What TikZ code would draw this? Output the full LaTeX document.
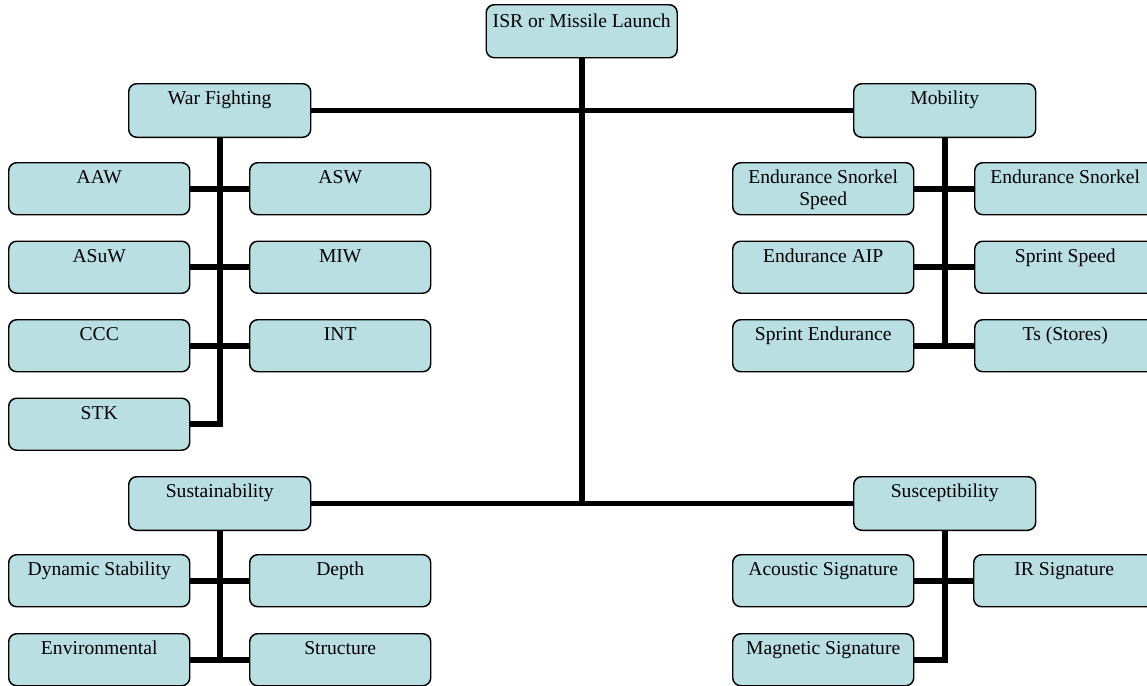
\documentclass[tikz,border=0pt]{standalone}
\usepackage{fontspec}
\setmainfont{Liberation Serif}
\definecolor{boxfill}{RGB}{185,223,227}
\tikzset{
  orgbox/.style={draw=black, line width=1.1pt, fill=boxfill, rounded corners=6pt,
    inner sep=0pt, minimum width=135.75pt, anchor=north west,
    font=\fontsize{14.7}{16.5}\selectfont, text height=15.75pt, text depth=23.25pt},
  headbox/.style={orgbox, minimum width=136.5pt, text depth=24.4pt},
  topbox/.style={orgbox, minimum width=143.25pt, text height=16.9pt, text depth=22.85pt},
  trunk/.style={line width=4.4pt},
  branch/.style={line width=4.2pt}
}
\newcommand{\twolines}[2]{\begin{tabular}[t]{@{}c@{}}#1\\#2\end{tabular}}
\begin{document}
\begin{tikzpicture}[x=0.75pt, y=-0.75pt]
\useasboundingbox (0,0) rectangle (1147,686);
\clip (0,0) rectangle (1147,686);

% root and second level
\node[topbox]  (isr)  at (485.5,4) {ISR or Missile Launch};
\node[headbox] (war)  at (128,83)  {War Fighting};
\node[headbox] (mob)  at (853,83)  {Mobility};
\node[headbox] (sus)  at (128,476) {Sustainability};
\node[headbox] (sce)  at (853,476) {Susceptibility};

% war fighting
\node[orgbox] (aaw)  at (8,162)     {AAW};
\node[orgbox] (asw)  at (249,162)   {ASW};
\node[orgbox] (asuw) at (8,240.5)   {ASuW};
\node[orgbox] (miw)  at (249,240.5) {MIW};
\node[orgbox] (ccc)  at (8,319)     {CCC};
\node[orgbox] (int)  at (249,319)   {INT};
\node[orgbox] (stk)  at (8,397.5)   {STK};

% mobility
\node[orgbox] (ess)  at (732,162)   {\twolines{Endurance Snorkel}{Speed}};
\node[orgbox] (esn)  at (974,162)   {Endurance Snorkel};
\node[orgbox] (eaip) at (732,240.5) {Endurance AIP};
\node[orgbox] (sps)  at (974,240.5) {Sprint Speed};
\node[orgbox] (spe)  at (732,319)   {Sprint Endurance};
\node[orgbox] (tss)  at (974,319)   {Ts (Stores)};

% sustainability
\node[orgbox] (dyn)  at (8,554)     {Dynamic Stability};
\node[orgbox] (dep)  at (249,554)   {Depth};
\node[orgbox] (env)  at (8,633)     {Environmental};
\node[orgbox] (str)  at (249,633)   {Structure};

% susceptibility
\node[orgbox] (aco)  at (732,554)   {Acoustic Signature};
\node[orgbox] (irs)  at (973,554)   {IR Signature};
\node[orgbox] (mag)  at (732,633)   {Magnetic Signature};

% main structure
\draw[trunk] (isr.south) -- (isr.south |- sus.east);
\draw[trunk] (war.east) -- (mob.west);
\draw[trunk] (sus.east) -- (sce.west);

% war fighting branches
\draw[trunk] (war.south) |- (stk.east);
\draw[branch] (aaw.east) -- (asw.west);
\draw[branch] (asuw.east) -- (miw.west);
\draw[branch] (ccc.east) -- (int.west);

% mobility branches
\draw[trunk] (mob.south) -- (mob.south |- spe.east);
\draw[branch] (ess.east) -- (esn.west);
\draw[branch] (eaip.east) -- (sps.west);
\draw[branch] (spe.east) -- (tss.west);

% sustainability branches
\draw[trunk] (sus.south) -- (sus.south |- env.east);
\draw[branch] (dyn.east) -- (dep.west);
\draw[branch] (env.east) -- (str.west);

% susceptibility branches
\draw[trunk] (sce.south) |- (mag.east);
\draw[branch] (aco.east) -- (irs.west);
\end{tikzpicture}
\end{document}
